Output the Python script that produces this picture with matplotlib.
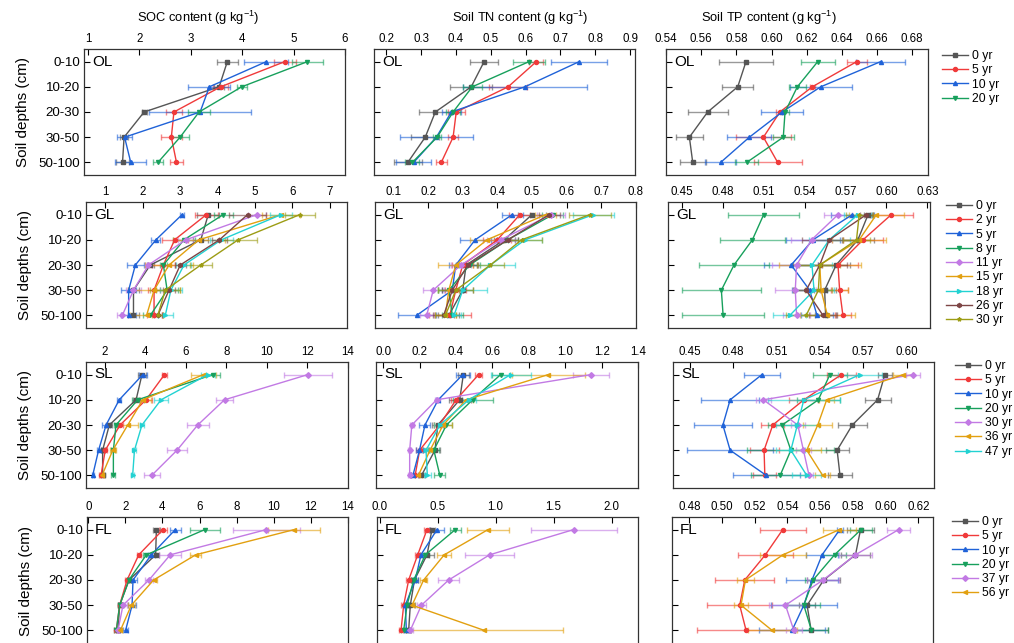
import matplotlib
matplotlib.use('Agg')
import matplotlib.pyplot as plt
import numpy as np

plt.rcParams['font.family'] = ['Liberation Sans', 'DejaVu Sans']
plt.rcParams['mathtext.default'] = 'regular'

W, H = 1014, 643

depths = ['0-10', '10-20', '20-30', '30-50', '50-100']
colors = ['#555555', '#f03a3a', '#1f62d8', '#17a05c', '#c27ae4', '#e2a010', '#22d2d2', '#7d4545', '#9c9c14']
markers = ['s', 'o', '^', 'v', 'D', '<', '>', 'h', '*']

# ---------------- OL ----------------
OL_years = ['0 yr', '5 yr', '10 yr', '20 yr']
OL_soc = [[3.71, 3.55, 2.09, 1.70, 1.67], [4.83, 3.58, 2.67, 2.62, 2.72],
          [4.47, 3.36, 3.18, 1.71, 1.83], [5.27, 3.99, 3.16, 2.79, 2.36]]
OL_soc_err = [[0.20, 0.10, 0.05, 0.08, 0.12], [0.22, 0.15, 0.15, 0.20, 0.12],
              [0.43, 0.41, 1.00, 0.15, 0.30], [0.30, 0.10, 0.22, 0.17, 0.10]]
OL_tn = [[0.481, 0.444, 0.341, 0.312, 0.262], [0.631, 0.550, 0.401, 0.392, 0.358],
         [0.754, 0.598, 0.387, 0.344, 0.279], [0.610, 0.447, 0.392, 0.346, 0.275]]
OL_tn_err = [[0.041, 0.060, 0.048, 0.040, 0.040], [0.020, 0.055, 0.025, 0.015, 0.016],
             [0.080, 0.177, 0.028, 0.105, 0.050], [0.047, 0.027, 0.020, 0.012, 0.020]]
OL_tp = [[0.5855, 0.5808, 0.5637, 0.5533, 0.5552], [0.6485, 0.6232, 0.6048, 0.5954, 0.6035],
         [0.6621, 0.6280, 0.6060, 0.5874, 0.5711], [0.6263, 0.6147, 0.6077, 0.6067, 0.5859]]
OL_tp_err = [[0.0154, 0.0087, 0.0113, 0.0075, 0.0075], [0.0057, 0.0015, 0.0025, 0.0157, 0.0137],
             [0.0138, 0.0175, 0.0120, 0.0125, 0.0089], [0.0096, 0.0050, 0.0020, 0.0060, 0.0066]]

# ---------------- GL ----------------
GL_years = ['0 yr', '2 yr', '5 yr', '8 yr', '11 yr', '15 yr', '18 yr', '26 yr', '30 yr']
GL_soc = [[3.75, 3.55, 2.20, 1.75, 1.75], [3.70, 2.85, 2.55, 2.30, 2.30],
          [3.05, 2.35, 1.80, 1.62, 1.62], [4.15, 3.10, 2.55, 2.65, 2.20],
          [5.05, 3.15, 2.15, 1.75, 1.45], [5.70, 3.50, 2.70, 2.30, 2.10],
          [5.70, 4.10, 3.10, 2.75, 2.60], [4.80, 4.05, 3.00, 2.70, 2.40],
          [6.20, 4.55, 3.55, 2.60, 2.40]]
GL_soc_err = [[0.30, 0.20, 0.10, 0.15, 0.15], [0.30, 0.35, 0.30, 0.15, 0.20],
              [0.06, 0.12, 0.22, 0.20, 0.20], [0.25, 0.30, 0.10, 0.30, 0.20],
              [0.25, 0.20, 0.10, 0.20, 0.15], [0.50, 0.70, 0.65, 0.70, 0.45],
              [0.30, 0.30, 0.20, 0.30, 0.20], [0.50, 0.20, 0.15, 0.15, 0.10],
              [0.40, 0.50, 0.30, 0.40, 0.15]]
GL_tn = [[0.50, 0.42, 0.31, 0.30, 0.26], [0.465, 0.40, 0.30, 0.28, 0.263],
         [0.443, 0.336, 0.28, 0.27, 0.167], [0.56, 0.43, 0.32, 0.26, 0.27],
         [0.555, 0.41, 0.295, 0.215, 0.196], [0.54, 0.37, 0.28, 0.26, 0.25],
         [0.677, 0.48, 0.38, 0.30, 0.275], [0.55, 0.43, 0.315, 0.27, 0.245],
         [0.667, 0.47, 0.38, 0.28, 0.25]]
GL_tn_err = [[0.04, 0.03, 0.03, 0.03, 0.03], [0.03, 0.04, 0.03, 0.03, 0.06],
             [0.03, 0.045, 0.02, 0.03, 0.055], [0.03, 0.03, 0.03, 0.03, 0.03],
             [0.04, 0.04, 0.03, 0.03, 0.02], [0.03, 0.05, 0.05, 0.03, 0.03],
             [0.06, 0.05, 0.07, 0.07, 0.02], [0.03, 0.03, 0.03, 0.03, 0.03],
             [0.06, 0.06, 0.04, 0.05, 0.03]]
GL_tp = [[0.5865, 0.5790, 0.5630, 0.5546, 0.5553], [0.6036, 0.5828, 0.5644, 0.5656, 0.5680],
         [0.5750, 0.5460, 0.5300, 0.5436, 0.5490], [0.5098, 0.5015, 0.4880, 0.4787, 0.4800],
         [0.5644, 0.5450, 0.5340, 0.5330, 0.5340], [0.5926, 0.5800, 0.5510, 0.5520, 0.5566],
         [0.5790, 0.5580, 0.5453, 0.5468, 0.5290], [0.5853, 0.5580, 0.5510, 0.5410, 0.5534],
         [0.5800, 0.5780, 0.5510, 0.5500, 0.5410]]
GL_tp_err = [[0.003, 0.012, 0.010, 0.008, 0.008], [0.016, 0.015, 0.015, 0.006, 0.006],
             [0.016, 0.020, 0.020, 0.013, 0.012], [0.026, 0.024, 0.026, 0.029, 0.030],
             [0.010, 0.015, 0.018, 0.015, 0.010], [0.020, 0.020, 0.030, 0.020, 0.020],
             [0.010, 0.015, 0.015, 0.015, 0.012], [0.005, 0.020, 0.020, 0.010, 0.010],
             [0.010, 0.010, 0.015, 0.010, 0.015]]

# ---------------- SL ----------------
SL_years = ['0 yr', '5 yr', '10 yr', '20 yr', '30 yr', '36 yr', '47 yr']
SL_soc = [[3.84, 3.55, 2.23, 1.90, 1.90], [4.95, 4.04, 2.76, 2.03, 1.82],
          [3.88, 2.72, 2.07, 1.70, 1.41], [7.33, 3.63, 2.56, 2.43, 2.43],
          [12.02, 7.91, 6.59, 5.57, 4.32], [6.87, 3.88, 3.14, 2.40, 1.87],
          [7.09, 4.78, 3.84, 3.47, 3.38]]
SL_soc_err = [[0.20, 0.15, 0.15, 0.10, 0.10], [0.10, 0.30, 0.15, 0.10, 0.10],
              [0.20, 0.10, 0.20, 0.10, 0.05], [0.35, 0.30, 0.10, 0.10, 0.10],
              [1.20, 0.40, 0.55, 0.50, 0.40], [0.60, 0.40, 0.50, 0.15, 0.10],
              [0.35, 0.35, 0.10, 0.07, 0.08]]
SL_tn = [[0.44, 0.42, 0.30, 0.284, 0.21], [0.524, 0.40, 0.31, 0.20, 0.175],
         [0.437, 0.302, 0.229, 0.199, 0.163], [0.645, 0.491, 0.347, 0.278, 0.311],
         [1.142, 0.293, 0.157, 0.145, 0.145], [0.907, 0.455, 0.329, 0.257, 0.193],
         [0.700, 0.470, 0.311, 0.235, 0.242]]
SL_tn_err = [[0.03, 0.06, 0.03, 0.03, 0.02], [0.02, 0.03, 0.03, 0.02, 0.02],
             [0.04, 0.01, 0.03, 0.02, 0.01], [0.05, 0.11, 0.03, 0.03, 0.03],
             [0.10, 0.01, 0.01, 0.01, 0.01], [0.20, 0.04, 0.05, 0.02, 0.02],
             [0.11, 0.04, 0.03, 0.02, 0.02]]
SL_tp = [[0.585, 0.580, 0.5625, 0.552, 0.554], [0.555, 0.529, 0.5075, 0.5015, 0.502],
         [0.500, 0.478, 0.473, 0.478, 0.503], [0.547, 0.539, 0.514, 0.520, 0.5126],
         [0.6046, 0.501, 0.5248, 0.5287, 0.5326], [0.5977, 0.5448, 0.5386, 0.531, 0.542],
         [0.5678, 0.529, 0.5245, 0.520, 0.531]]
SL_tp_err = [[0.005, 0.009, 0.010, 0.008, 0.008], [0.010, 0.010, 0.008, 0.010, 0.008],
             [0.0125, 0.020, 0.020, 0.030, 0.023], [0.012, 0.015, 0.010, 0.030, 0.020],
             [0.005, 0.005, 0.005, 0.005, 0.003], [0.007, 0.005, 0.010, 0.010, 0.005],
             [0.015, 0.025, 0.015, 0.010, 0.010]]

# ---------------- FL ----------------
FL_years = ['0 yr', '5 yr', '10 yr', '20 yr', '37 yr', '56 yr']
FL_soc = [[3.67, 3.63, 2.20, 1.69, 1.60], [4.03, 2.72, 2.09, 1.69, 1.51],
          [4.69, 3.40, 2.41, 2.36, 2.01], [6.28, 3.13, 2.19, 1.69, 1.51],
          [9.60, 4.42, 3.27, 1.87, 1.60], [11.10, 5.79, 3.52, 2.32, 1.73]]
FL_soc_err = [[0.20, 0.20, 0.10, 0.10, 0.10], [0.20, 0.10, 0.10, 0.10, 0.10],
              [0.30, 0.20, 0.20, 0.20, 0.15], [0.80, 0.20, 0.10, 0.10, 0.10],
              [1.80, 0.60, 0.20, 0.20, 0.10], [1.40, 0.30, 0.20, 0.20, 0.10]]
FL_tn = [[0.451, 0.408, 0.300, 0.264, 0.250], [0.408, 0.328, 0.250, 0.207, 0.184],
         [0.494, 0.356, 0.307, 0.221, 0.230], [0.652, 0.394, 0.293, 0.236, 0.207],
         [1.672, 0.948, 0.595, 0.360, 0.264], [0.934, 0.557, 0.379, 0.279, 0.902]]
FL_tn_err = [[0.03, 0.06, 0.03, 0.04, 0.02], [0.03, 0.02, 0.02, 0.02, 0.02],
             [0.06, 0.03, 0.02, 0.02, 0.02], [0.05, 0.03, 0.02, 0.02, 0.02],
             [0.37, 0.21, 0.09, 0.04, 0.02], [0.18, 0.06, 0.03, 0.02, 0.675]]
FL_tp = [[0.5847, 0.5816, 0.5622, 0.5520, 0.5545], [0.5371, 0.5265, 0.5139, 0.5108, 0.5147],
         [0.5720, 0.5612, 0.5550, 0.5500, 0.5428], [0.5850, 0.5688, 0.5557, 0.5500, 0.5547],
         [0.6080, 0.5816, 0.5618, 0.5388, 0.5439], [0.5718, 0.5373, 0.5143, 0.5116, 0.5306]]
FL_tp_err = [[0.008, 0.009, 0.010, 0.005, 0.010], [0.014, 0.017, 0.018, 0.020, 0.030],
             [0.002, 0.010, 0.016, 0.020, 0.020], [0.007, 0.007, 0.005, 0.010, 0.010],
             [0.007, 0.010, 0.010, 0.010, 0.005], [0.010, 0.014, 0.005, 0.004, 0.015]]

row_names = ['OL', 'GL', 'SL', 'FL']
row_years = [OL_years, GL_years, SL_years, FL_years]
row_data = [
    [(OL_soc, OL_soc_err), (OL_tn, OL_tn_err), (OL_tp, OL_tp_err)],
    [(GL_soc, GL_soc_err), (GL_tn, GL_tn_err), (GL_tp, GL_tp_err)],
    [(SL_soc, SL_soc_err), (SL_tn, SL_tn_err), (SL_tp, SL_tp_err)],
    [(FL_soc, FL_soc_err), (FL_tn, FL_tn_err), (FL_tp, FL_tp_err)],
]
titles = ['SOC content (g kg$^{-1}$)', 'Soil TN content (g kg$^{-1}$)',
          'Soil TP content (g kg$^{-1}$)']

xlims = [
    [(0.92, 6.0), (0.165, 0.914), (0.54, 0.689)],
    [(0.48, 7.46), (0.047, 0.80), (0.4395, 0.632)],
    [(1.08, 14.0), (-0.04, 1.38), (0.4385, 0.619)],
    [(-0.07, 14.0), (-0.023, 2.227), (0.4694, 0.629)],
]
xticks = [
    [np.arange(1, 6.01, 1), np.arange(0.2, 0.901, 0.1), np.arange(0.54, 0.681, 0.02)],
    [np.arange(1, 7.01, 1), np.arange(0.1, 0.801, 0.1), np.arange(0.45, 0.631, 0.03)],
    [np.arange(2, 14.01, 2), np.arange(0.0, 1.401, 0.2), np.arange(0.45, 0.601, 0.03)],
    [np.arange(0, 14.01, 2), np.arange(0.0, 2.01, 0.5), np.arange(0.48, 0.621, 0.02)],
]
fmts = ['%d', '%.1f', '%.2f']

col_px = [
    [(84, 345), (374, 635), (666, 928)],
    [(86, 347), (375, 636), (668, 930)],
    [(86, 348), (376, 638), (673, 934)],
    [(87, 348), (377, 638), (672, 933)],
]
row_px = [(49, 175), (202, 328), (362, 488), (517, 645)]
legend_px = [(942, 50), (946, 200), (955, 360), (952, 516)]
title_px = [198, 520, 769]

fig = plt.figure(figsize=(W / 100, H / 100), dpi=100)

for c in range(3):
    fig.text(title_px[c] / W, 1 - 18 / H, titles[c], fontsize=9.3, ha='center', va='center')

for r in range(4):
    y0, y1 = row_px[r]
    for c in range(3):
        x0, x1 = col_px[r][c]
        ax = fig.add_axes([x0 / W, 1 - y1 / H, (x1 - x0) / W, (y1 - y0) / H])
        means, errs = row_data[r][c]
        ypos = np.arange(len(depths))
        handles = []
        for i, (m, e) in enumerate(zip(means, errs)):
            col = colors[i]
            ax.errorbar(m, ypos, xerr=e, fmt='none', ecolor=col, elinewidth=1.0,
                        capsize=2.5, capthick=1.0, alpha=0.6, zorder=2)
            h, = ax.plot(m, ypos, color=col, marker=markers[i], markersize=2.9,
                         linewidth=1.0, zorder=3, label=row_years[r][i])
            handles.append(h)
        ax.set_ylim(4.5 if r < 3 else 4.5 + 2 / 126 * 5, -0.5)
        ax.set_yticks(ypos)
        ax.set_xlim(*xlims[r][c])
        ax.set_xticks(xticks[r][c])
        ax.set_xticklabels([fmts[c] % v for v in xticks[r][c]])
        ax.xaxis.tick_top()
        ax.tick_params(axis='both', direction='in', length=4, width=0.8,
                       labelsize=8.3, pad=3)
        ax.tick_params(axis='x', top=True, bottom=False)
        if c == 0:
            ax.set_yticklabels(depths)
            ax.tick_params(axis='y', labelsize=9.6)
            ax.set_ylabel('Soil depths (cm)', fontsize=11, labelpad=6)
        else:
            ax.set_yticklabels([])
        for s in ax.spines.values():
            s.set_linewidth(0.9)
            s.set_color('#333333')
        ax.text(8 / (x1 - x0), 1 - 12.5 / 126, row_names[r], transform=ax.transAxes,
                fontsize=11, ha='left', va='center')
        if c == 2:
            lx, ly = legend_px[r]
            fig.legend(handles=handles, loc='upper left',
                       bbox_to_anchor=(lx / W, 1 - ly / H), frameon=False,
                       fontsize=8.7, handlelength=2.15, handletextpad=0.3,
                       labelspacing=0.19, borderpad=0, borderaxespad=0)

fig.savefig('out.png', dpi=100)
